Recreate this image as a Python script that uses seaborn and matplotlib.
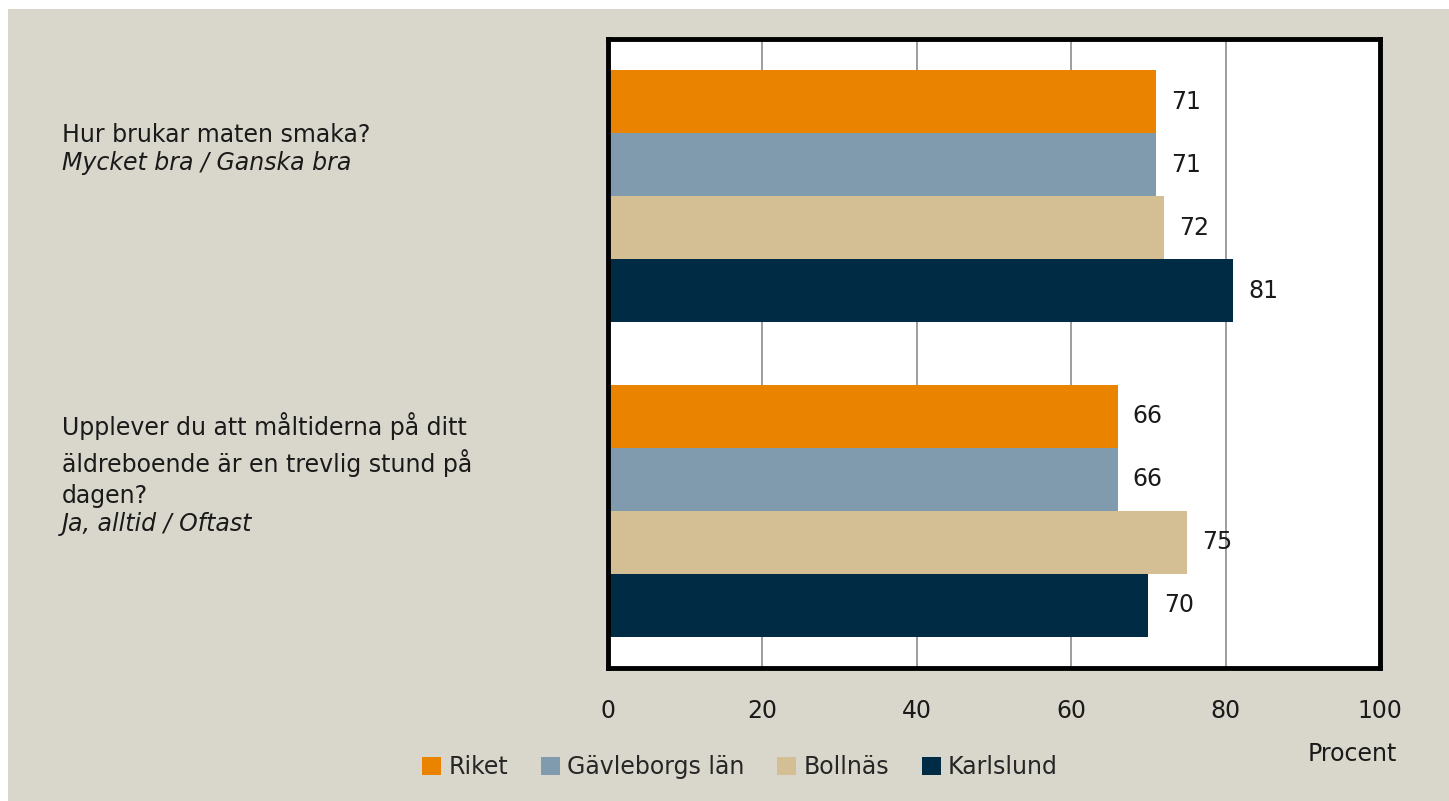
import pandas as pd
import matplotlib.pyplot as plt
import seaborn as sns
from matplotlib.patches import Rectangle
import matplotlib.transforms as mtransforms

# data
questions = ["Hur brukar maten smaka?",
             "Upplever du att måltiderna på ditt\näldreboende är en trevlig stund på\ndagen?"]
answers = ["Mycket bra / Ganska bra", "Ja, alltid / Oftast"]
areas = ["Riket", "Gävleborgs län", "Bollnäs", "Karlslund"]
riket = [71, 66]
gavleborg = [71, 66]
bollnas = [72, 75]
karlslund = [81, 70]

colors = ["#E98300", "#7F9BAD", "#D4BF95", "#002B45"]
bg = "#D9D7CB"

rows = []
for area, vals in zip(areas, [riket, gavleborg, bollnas, karlslund]):
    for q, v in zip(questions, vals):
        rows.append({"fraga": q, "omrade": area, "procent": v})
df = pd.DataFrame(rows)

sns.set_style("white")
plt.rcParams["font.family"] = ["DejaVu Sans"]

fig = plt.figure(figsize=(14.49, 8.01), dpi=100, facecolor="white")
fig.patches.append(Rectangle((8 / 1449, 0), 1, 1 - 9 / 801, transform=fig.transFigure,
                             facecolor=bg, edgecolor="none", zorder=-10))
ax = fig.add_axes([608 / 1449, 1 - 668 / 801, (1380 - 608) / 1449, (668 - 39) / 801])
ax.set_facecolor("white")

sns.barplot(data=df, y="fraga", x="procent", hue="omrade", orient="h",
            palette=colors, hue_order=areas, order=questions, width=0.8,
            saturation=1, ax=ax, legend=True, zorder=2, linewidth=0)

for c in ax.containers:
    ax.bar_label(c, padding=11, fontsize=17, color="#1a1a1a")

ax.set_xlim(0, 100)
ax.set_xticks([0, 20, 40, 60, 80, 100])
ax.tick_params(axis="x", length=0, pad=22, labelsize=17, colors="#1a1a1a")
ax.grid(axis="x", color="#8c8c8c", linewidth=1.2, zorder=0)
ax.set_axisbelow(True)
ax.set_yticks([])
ax.set_xlabel("")
ax.set_ylabel("")
for s in ax.spines.values():
    s.set_visible(True)
    s.set_color("black")
    s.set_linewidth(3.5)
    s.set_zorder(3)

# question labels on the left
trans = mtransforms.blended_transform_factory(fig.transFigure, ax.transData)
anchors = [-0.157, 0.991]
for q, a, y in zip(questions, answers, anchors):
    ax.text(62 / 1449, y, q, transform=trans, ha="left", va="bottom",
            fontsize=17, color="#1a1a1a", linespacing=1.38)
    ax.text(62 / 1449, y + 0.012, a, transform=trans, ha="left", va="top",
            fontsize=17, style="italic", color="#1a1a1a")

handles, labels = ax.get_legend_handles_labels()
ax.get_legend().remove()
for h in handles:
    h.set_edgecolor("none")
fig.legend(handles, labels, loc="center", bbox_to_anchor=(740 / 1449, 1 - 767 / 801),
           ncol=4, frameon=False, fontsize=17, handlelength=0.8, handleheight=0.8,
           handletextpad=0.3, columnspacing=1.4)

fig.text(1352 / 1449, 1 - 754 / 801, "Procent", ha="center", va="center",
         fontsize=17, color="#1a1a1a")

fig.savefig("out.png", dpi=100, facecolor=fig.get_facecolor())
